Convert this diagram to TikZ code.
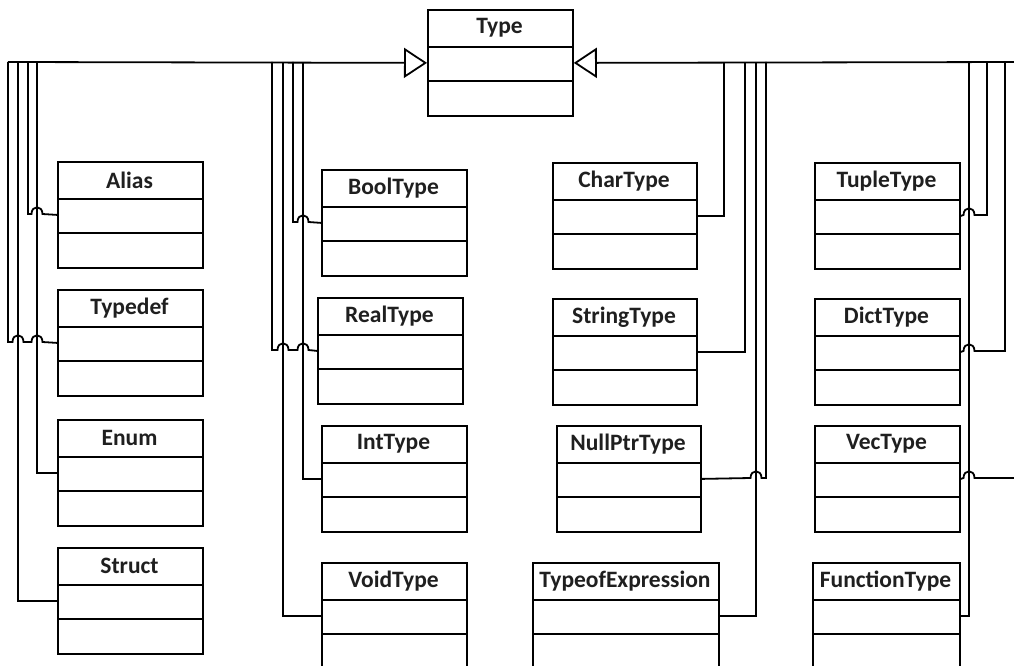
\documentclass[tikz,border=0pt]{standalone}
\usepackage{fontspec}
\setmainfont{Carlito}
\usetikzlibrary{arrows.meta}
\tikzset{
  classbox/.style={draw, line width=1.8pt, minimum height=106pt, inner sep=0pt, anchor=north west, fill=white},
  classtitle/.style={font=\fontsize{23.5}{27}\selectfont\bfseries, inner sep=0pt, text=black!88},
  link/.style={draw, line width=1.8pt},
  gen/.style={link, -{Triangle[open, length=23pt, width=30pt]}},
}
\newcommand\umlclass[5]{% name, x, top, width, title
  \node[classbox, minimum width=#4pt] (#1) at (#2,#3) {};
  \node[classtitle] (#1-title) at ({#2+#4/2},{#3+19}) {#5};
  \draw[link] ([yshift=-38pt]#1.north west) -- ([yshift=-38pt]#1.north east);
  \draw[link] ([yshift=-72pt]#1.north west) -- ([yshift=-72pt]#1.north east);
}
\begin{document}
\begin{tikzpicture}[x=1pt,y=-1pt]
\useasboundingbox (0,0) rectangle (1014,666);
\clip (0,0) rectangle (1014,666);

% classes
\umlclass{Type}{427}{9}{145}{Type}
\umlclass{Alias}{57}{161}{145}{Alias}
\umlclass{Typedef}{57}{289}{145}{Typedef}
\umlclass{Enum}{57}{419}{145}{Enum}
\umlclass{Struct}{57}{547}{145}{Struct}
\umlclass{BoolType}{321}{169}{145}{BoolType}
\umlclass{RealType}{317}{297}{145}{RealType}
\umlclass{IntType}{321}{425}{145}{IntType}
\umlclass{VoidType}{321}{562}{145}{VoidType}
\umlclass{CharType}{552}{162}{144}{CharType}
\umlclass{StringType}{552}{298}{144}{StringType}
\umlclass{NullPtrType}{556}{425}{144}{NullPtrType}
\umlclass{TypeofExpression}{532}{562}{186}{TypeofExpression}
\umlclass{TupleType}{814}{162}{145}{TupleType}
\umlclass{DictType}{814}{298}{145}{DictType}
\umlclass{VecType}{814}{425}{145}{VecType}
\umlclass{FunctionType}{812}{562}{147}{FunctionType}

% junctions on the main line
\coordinate (a1) at (8,62);   \coordinate (a2) at (18,62);
\coordinate (a3) at (28,62);  \coordinate (a4) at (37,62);
\coordinate (b1) at (272,62); \coordinate (b2) at (283,62);
\coordinate (b3) at (293,62); \coordinate (b4) at (303,62);
\coordinate (c1) at (724,62); \coordinate (c2) at (745,62);
\coordinate (c3) at (756,62); \coordinate (c4) at (766,62);
\coordinate (d1) at (969,62); \coordinate (d2) at (987,62);
\coordinate (d3) at (1005,62); \coordinate (d4) at (1022,62);

% main generalization lines
\draw[gen] (a1) -- (Type.west);
\draw[gen] (d4) -- (Type.east);

% group 1
\draw[link] (Alias.west) -- (42.5,214) .. controls (42.5,205) and (31.5,205) .. (31.5,214) -- (28,214) -- (a3);
\draw[link] (Typedef.west) -- (42.5,342) .. controls (42.5,333) and (31.5,333) .. (31.5,342)
  -- (23.5,342) .. controls (23.5,333) and (12.5,333) .. (12.5,342) -- (8,342) -- (a1);
\draw[link] (Enum.west) -- (Enum.west -| a4) -- (a4);
\draw[link] (Struct.west) -- (Struct.west -| a2) -- (a2);

% group 2
\draw[link] (BoolType.west) -- (308.5,222) .. controls (308.5,213) and (297.5,213) .. (297.5,222) -- (293,222) -- (b3);
\draw[link] (RealType.west) -- (308.5,350) .. controls (308.5,341) and (297.5,341) .. (297.5,350)
  -- (288.5,350) .. controls (288.5,341) and (277.5,341) .. (277.5,350) -- (272,350) -- (b1);
\draw[link] (IntType.west) -- (IntType.west -| b4) -- (b4);
\draw[link] (VoidType.west) -- (VoidType.west -| b2) -- (b2);

% group 3
\draw[link] (CharType.east) -- (CharType.east -| c1) -- (c1);
\draw[link] (StringType.east) -- (StringType.east -| c2) -- (c2);
\draw[link] (NullPtrType.east) -- (750.5,478) .. controls (750.5,469) and (761.5,469) .. (761.5,478) -- (766,478) -- (c4);
\draw[link] (TypeofExpression.east) -- (TypeofExpression.east -| c3) -- (c3);

% group 4
\draw[link] (TupleType.east) -- (963.5,215) .. controls (963.5,206) and (974.5,206) .. (974.5,215) -- (987,215) -- (d2);
\draw[link] (DictType.east) -- (963.5,351) .. controls (963.5,342) and (974.5,342) .. (974.5,351) -- (1005,351) -- (d3);
\draw[link] (VecType.east) -- (963.5,478) .. controls (963.5,469) and (974.5,469) .. (974.5,478) -- (1022,478) -- (d4);
\draw[link] (FunctionType.east) -- (FunctionType.east -| d1) -- (d1);
\end{tikzpicture}
\end{document}
